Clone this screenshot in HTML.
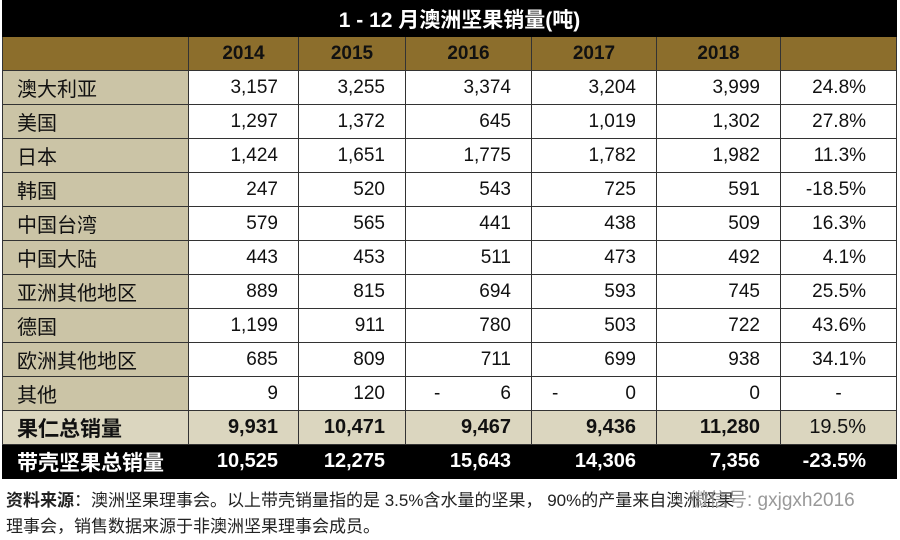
<!DOCTYPE html>
<html><head><meta charset="utf-8"><style>
body{margin:0;width:900px;height:540px;background:#fff;overflow:hidden;font-family:"Liberation Sans","Noto Sans CJK SC",sans-serif;}
table{position:absolute;left:2px;top:0;border-collapse:collapse;width:894px;table-layout:fixed;}
td{height:34px;padding:0;border:1px solid #333;font-size:19px;color:#111;text-align:right;padding-right:20px;box-sizing:border-box;}
td.l{text-align:left;padding-left:14px;padding-right:0;background:#cbc4a6;font-size:20px;}
tr.title td{background:#000;color:#fff;font-weight:bold;text-align:center;font-size:21px;height:36px;border-color:#000;padding:0 0 0 20px;}
tr.hd td{background:#8c6e2c;font-weight:bold;text-align:center;padding:0;}
tr.tot td{background:#dbd6bf;font-weight:bold;font-size:20px;}
tr.tot td.l{font-size:21px;}
tr.blk td{background:#000;color:#fff;font-weight:bold;border-color:#000;font-size:20px;}
tr.blk td.l{background:#000;font-size:21px;}
td.p{padding-right:30px;}
.note{position:absolute;left:6px;font-size:17px;color:#222;white-space:nowrap;}
</style></head><body>
<table>
<colgroup><col style="width:186px"><col style="width:110px"><col style="width:107px"><col style="width:126px"><col style="width:125px"><col style="width:124px"><col style="width:116px"></colgroup>
<tr class="title"><td colspan="7">1 - 12 月澳洲坚果销量(吨)</td></tr>
<tr class="hd"><td></td><td>2014</td><td>2015</td><td>2016</td><td>2017</td><td>2018</td><td></td></tr>
<tr><td class="l">澳大利亚</td><td>3,157</td><td>3,255</td><td>3,374</td><td>3,204</td><td>3,999</td><td class="p">24.8%</td></tr>
<tr><td class="l">美国</td><td>1,297</td><td>1,372</td><td>645</td><td>1,019</td><td>1,302</td><td class="p">27.8%</td></tr>
<tr><td class="l">日本</td><td>1,424</td><td>1,651</td><td>1,775</td><td>1,782</td><td>1,982</td><td class="p">11.3%</td></tr>
<tr><td class="l">韩国</td><td>247</td><td>520</td><td>543</td><td>725</td><td>591</td><td class="p">-18.5%</td></tr>
<tr><td class="l">中国台湾</td><td>579</td><td>565</td><td>441</td><td>438</td><td>509</td><td class="p">16.3%</td></tr>
<tr><td class="l">中国大陆</td><td>443</td><td>453</td><td>511</td><td>473</td><td>492</td><td class="p">4.1%</td></tr>
<tr><td class="l">亚洲其他地区</td><td>889</td><td>815</td><td>694</td><td>593</td><td>745</td><td class="p">25.5%</td></tr>
<tr><td class="l">德国</td><td>1,199</td><td>911</td><td>780</td><td>503</td><td>722</td><td class="p">43.6%</td></tr>
<tr><td class="l">欧洲其他地区</td><td>685</td><td>809</td><td>711</td><td>699</td><td>938</td><td class="p">34.1%</td></tr>
<tr><td class="l">其他</td><td>9</td><td>120</td><td><span style="float:left;padding-left:28px">-</span>6</td><td><span style="float:left;padding-left:20px">-</span>0</td><td>0</td><td class="p" style="text-align:center;padding:0">-</td></tr>
<tr class="tot"><td class="l">果仁总销量</td><td>9,931</td><td>10,471</td><td>9,467</td><td>9,436</td><td>11,280</td><td class="p" style="font-weight:normal">19.5%</td></tr>
<tr class="blk"><td class="l">带壳坚果总销量</td><td>10,525</td><td>12,275</td><td>15,643</td><td>14,306</td><td>7,356</td><td class="p">-23.5%</td></tr>
</table>
<div class="note" style="top:486px"><b>资料来源</b>：澳洲坚果理事会。以上带壳销量指的是 3.5%含水量的坚果， 90%的产量来自澳洲坚果</div>
<div class="note" style="top:485px;left:690px;color:#999;font-size:19px">微信号: gxjgxh2016</div>
<div class="note" style="top:512px">理事会，销售数据来源于非澳洲坚果理事会成员。</div>
</body></html>
